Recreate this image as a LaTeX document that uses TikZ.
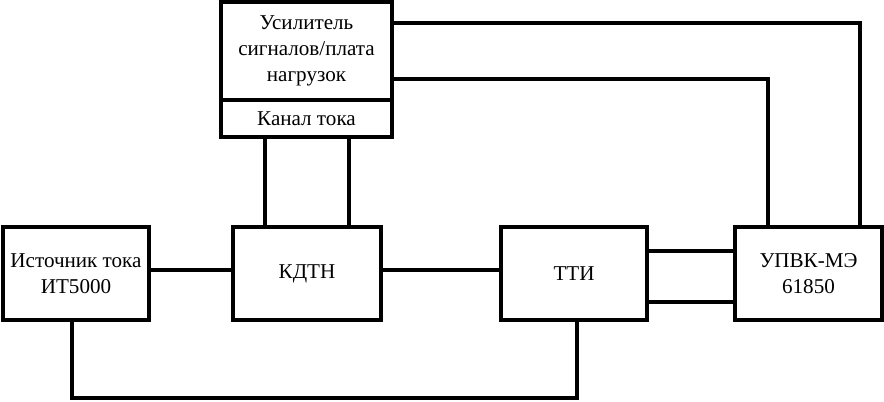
\documentclass[tikz,border=0pt]{standalone}
\usepackage{fontspec}
\setmainfont{Liberation Serif}
\begin{document}
\begin{tikzpicture}[x=0.025cm,y=-0.025cm,line width=2.6pt,
    blk/.style={draw,inner sep=0pt,outer sep=0pt,align=center,font=\fontsize{15}{18.5}\selectfont,minimum height=93*0.025cm},
    wire/.style={line join=miter}]
    \useasboundingbox (0,0) rectangle (884,402);
    \node[blk,minimum width=146*0.025cm] (src) at (76,273.5) {Источник тока\\ИТ5000};
    \node[blk,minimum width=148*0.025cm] (kdtn) at (307,273.5) {\raisebox{-3pt}{КДТН}};
    \node[blk,minimum width=146*0.025cm] (tti) at (574,273.5) {\raisebox{-3pt}{ТТИ}};
    \node[blk,minimum width=147*0.025cm] (upvk) at (808.5,273.5) {УПВК-МЭ\\61850};
    \node[blk,minimum width=171*0.025cm,minimum height=98*0.025cm] (amp) at (306.5,51) {Усилитель\\сигналов/плата\\нагрузок};
    \node[blk,minimum width=171*0.025cm,minimum height=37*0.025cm,anchor=north] (chan) at (amp.south) {Канал тока};
    \draw[wire] (src.east |- 0,270) -- (kdtn.west |- 0,270);
    \draw[wire] (kdtn.east |- 0,270) -- (tti.west |- 0,270);
    \draw[wire] (tti.east |- 0,251) -- (upvk.west |- 0,251);
    \draw[wire] (tti.east |- 0,302) -- (upvk.west |- 0,302);
    \draw[wire] (chan.south -| 265,0) -- (kdtn.north -| 265,0);
    \draw[wire] (chan.south -| 349,0) -- (kdtn.north -| 349,0);
    \draw[wire] (amp.east |- 0,23) -| (upvk.north -| 860,0);
    \draw[wire] (amp.east |- 0,79) -| (upvk.north -| 768,0);
    \draw[wire] (src.south -| 72,0) -- (72,398) -- (577,398) -- (tti.south -| 577,0);
\end{tikzpicture}
\end{document}
